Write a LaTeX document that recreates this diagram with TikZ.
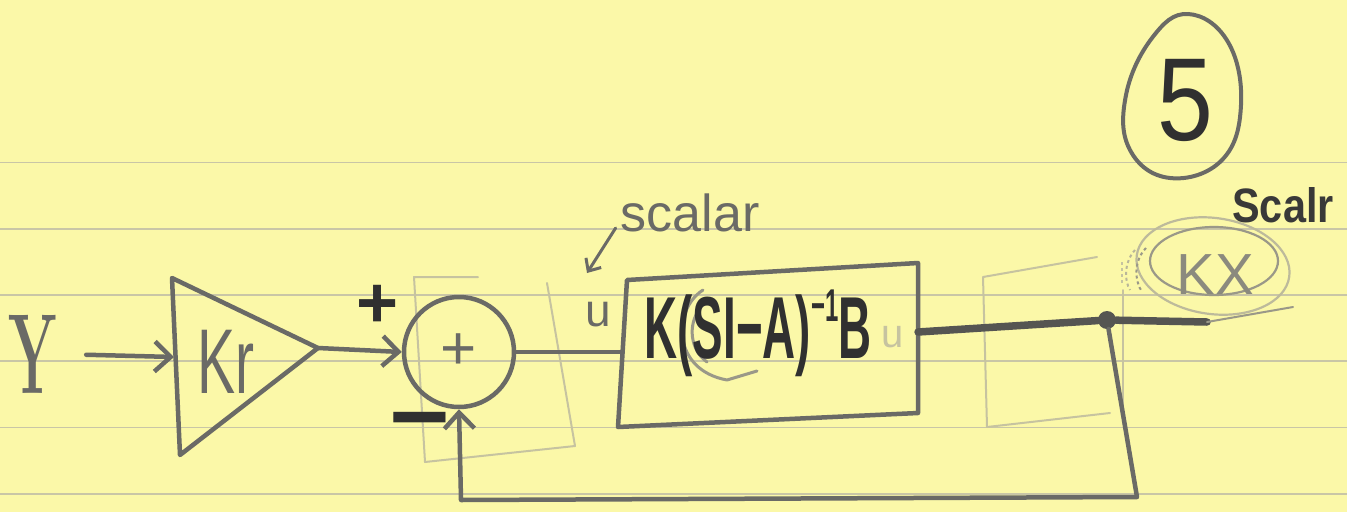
\documentclass[tikz,border=0pt]{standalone}
\usepackage{fontspec}
\newfontfamily\hand{Liberation Sans}
\usetikzlibrary{arrows.meta}
\definecolor{paper}{HTML}{FBF8A8}
\definecolor{rulec}{HTML}{C9C6A6}
\definecolor{pencil}{HTML}{6A6A66}
\definecolor{darkink}{HTML}{303030}
\definecolor{outink}{HTML}{555552}
\definecolor{faintc}{HTML}{C6C3A0}
\definecolor{midc}{HTML}{9A9888}
\begin{document}
\begin{tikzpicture}[x=1pt,y=-1pt,
  rulestyle/.style={rulec,line width=1.8pt},
  pen/.style={pencil,line width=4.5pt,line cap=round,line join=round},
  thinpen/.style={pencil,line width=3pt,line cap=round,line join=round},
  faintpen/.style={faintc,line width=2pt,line cap=round,line join=round},
  arr/.style={-{Straight Barb[length=16pt,width=30pt]}},
  txt/.style={inner sep=0pt,outer sep=0pt},
  penlbl/.style={txt,text=pencil,font=\hand},
  inklbl/.style={txt,text=darkink,font=\hand\bfseries}]
\fill[paper] (0,0) rectangle (1347,512);
\useasboundingbox (0,0) rectangle (1347,512);
\foreach \yy in {162.5,228.8,295,361.3,427.5,493.8}
  \draw[rulestyle] (0,\yy) -- (1347,\yy);

% faint pencil boxes
\draw[faintpen] (478,277) -- (414,277) -- (425,462) -- (575,446) -- (547,283);
\draw[faintpen] (1097,257) -- (983,277) -- (987,427) -- (1110,413);
\draw[faintpen] (1123,290) -- (1123,417);

% input Y
\node[txt,text=pencil,font=\bfseries\fontsize{114}{114}\selectfont] (Y) at (33,354) {\scalebox{0.5}[1]{Y}};

% gain triangle
\coordinate (t1) at (172,278);
\coordinate (t2) at (318,348);
\coordinate (t3) at (180,455);
\coordinate (krin) at (174,357);
\draw[pen] (t1) -- (t2) -- (t3) -- cycle;
\node[penlbl,font=\hand\fontsize{92}{92}\selectfont] (krlbl) at (226,362) {\scalebox{0.62}[1]{Kr}};
\draw[pen,arr,shorten <=29pt] (Y.east) -- (krin);

% summing junction
\node[circle,draw=pencil,line width=4.5pt,minimum size=110pt,inner sep=0pt,
      text=pencil,font=\hand\fontsize{62}{62}\selectfont] (sum) at (459,352) {+};
\draw[pen,arr] (t2) -- (sum.west);
\node[inklbl,font=\hand\bfseries\fontsize{72}{72}\selectfont] (plus) at (378,306) {+};
\node[inklbl,font=\hand\bfseries\fontsize{80}{80}\selectfont] (minus) at (420,431) {\scalebox{1.3}[1.2]{−}};

% plant block
\coordinate (p1) at (627,280);
\coordinate (p2) at (918,263);
\coordinate (p3) at (918,413);
\coordinate (p4) at (618,427);
\coordinate (pin) at (622.5,352);
\coordinate (pout) at (918,332);
\draw[pen] (p1) -- (p2) -- (p3) -- (p4) -- cycle;
\draw[pen] (sum.east) -- (pin);
\draw[thinpen,midc] (703,290) .. controls (672,310) and (672,370) .. (727,380) -- (757,371);
\draw[thinpen,midc] (699,310) .. controls (688,325) and (690,350) .. (707,362);
\node[inklbl,font=\hand\bfseries\fontsize{88}{88}\selectfont] (plant) at (758,333)
  {\scalebox{0.52}[1]{K(SI−A)\raisebox{0.42em}{\fontsize{46}{46}\selectfont −1}B}};
\node[txt,text=faintc,font=\hand\fontsize{40}{40}\selectfont] (ufaint) at (893,337) {u};

% scalar annotation
\node[penlbl,font=\hand\fontsize{52}{52}\selectfont] (scalar) at (690,213) {scalar};
\node[penlbl,font=\hand\fontsize{46}{46}\selectfont] (u) at (598,315) {u};
\draw[thinpen,-{Straight Barb[length=10pt,width=18pt]}] (scalar.west) ++(-5,15) -- (587,273);

% output and junction
\node[circle,fill=outink,minimum size=18pt,inner sep=0pt] (jn) at (1107,320) {};
\coordinate (yend) at (1207,322);
\draw[outink,line width=7.5pt,line cap=round] (pout) -- (jn) -- (yend);
\draw[faintpen,midc] (yend) -- (1293,307);

% feedback
\coordinate (fb1) at (1137,497);
\coordinate (fb2) at (461,500);
\draw[pen,arr] (jn) -- (fb1) -- (fb2) -- (sum.south);

% KX annotation
\draw[midc,line width=2.2pt] (1214,261) ellipse [x radius=64, y radius=34];
\draw[faintc!80!midc,line width=2.2pt,rotate around={-8:(1213,266)}] (1213,266) ellipse [x radius=77, y radius=48];
\draw[midc,line width=2pt,dashed] (1146,248) .. controls (1134,260) and (1134,280) .. (1142,292);
\draw[faintc!70!midc,line width=2pt,dashed] (1135,250) .. controls (1124,262) and (1124,280) .. (1130,290);
\draw[faintc,line width=2pt,dashed] (1122,262) -- (1122,286);
\node[penlbl,text=midc!70!pencil,font=\hand\fontsize{58}{58}\selectfont] (kx) at (1215,275) {KX};
\node[inklbl,text=darkink!85!pencil,font=\hand\bfseries\fontsize{46}{46}\selectfont] (scalr) at (1283,205) {\scalebox{0.9}[1.05]{Scalr}};

% problem number
\draw[pencil,line width=4pt] plot[smooth cycle,tension=0.7] coordinates
  {(1188,14) (1228,42) (1241,105) (1222,160) (1170,178) (1130,150) (1126,95) (1152,38)};
\node[txt,text=darkink,font=\hand\fontsize{118}{118}\selectfont] (five) at (1185,100) {\scalebox{0.85}[1]{5}};
\end{tikzpicture}
\end{document}
